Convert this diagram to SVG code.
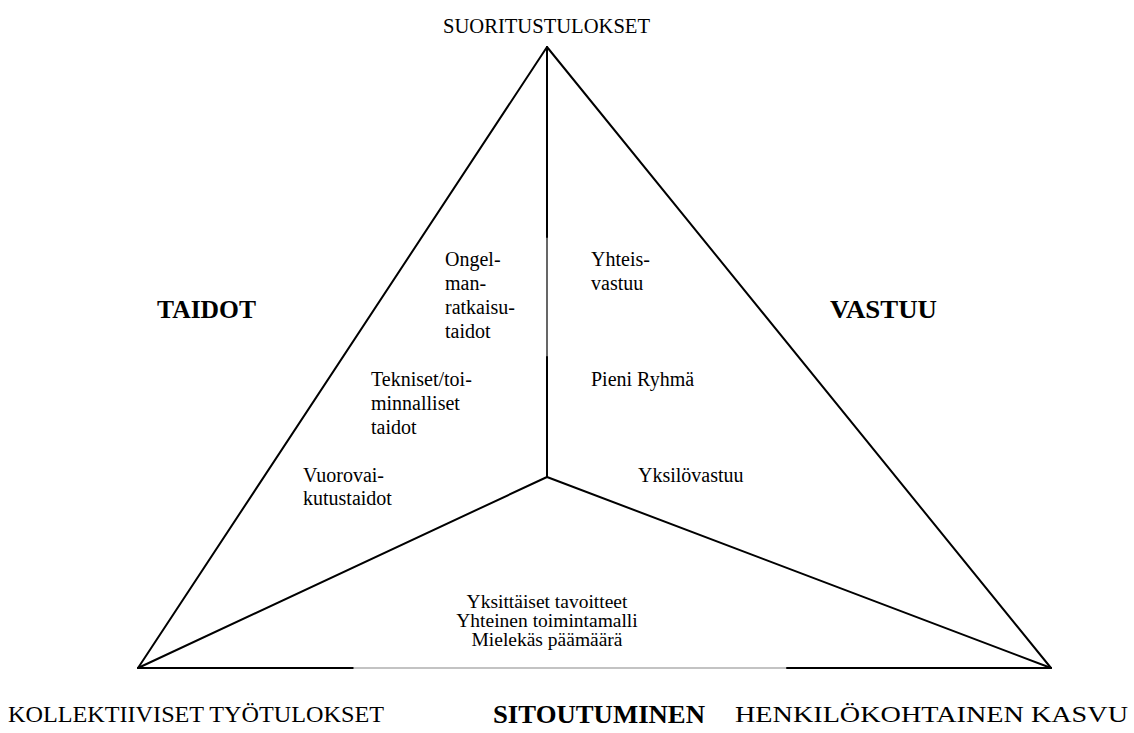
<svg xmlns="http://www.w3.org/2000/svg" width="1134" height="733" viewBox="0 0 1134 733">
<style>
.ln{stroke:#000;stroke-width:2;fill:none;stroke-linecap:round}
.thin{stroke:#000;stroke-width:1.2;fill:none}
.gr{stroke:#888;stroke-width:1.2;fill:none}
text{font-family:"Liberation Serif","Times New Roman",serif;fill:#000}
.s{font-size:20px}
.c{font-size:19.5px}
.b{font-size:24px}
.t{font-size:21px}
.bb{font-size:25px;font-weight:bold}
</style>
<rect width="1134" height="733" fill="#fff"/>
<g id="connectors">
<line class="ln" x1="547" y1="47" x2="138" y2="668"/>
<line class="ln" x1="547" y1="47" x2="1051" y2="668"/>
<line class="ln" x1="138" y1="668" x2="353" y2="668"/>
<line class="gr" x1="353" y1="668" x2="787" y2="668"/>
<line class="ln" x1="787" y1="668" x2="1051" y2="668"/>
<line class="ln" x1="547" y1="47" x2="547" y2="237"/>
<line class="thin" x1="547" y1="237" x2="547" y2="357"/>
<line class="ln" x1="547" y1="357" x2="547" y2="477"/>
<line class="ln" x1="547" y1="477" x2="138" y2="668"/>
<line class="ln" x1="547" y1="477" x2="1051" y2="668"/>
</g>
<g id="suoritustulokset"><text class="t" x="443" y="33" textLength="207" lengthAdjust="spacingAndGlyphs">SUORITUSTULOKSET</text></g>
<g id="taidot"><text class="bb" x="157" y="318" textLength="99" lengthAdjust="spacingAndGlyphs">TAIDOT</text></g>
<g id="vastuu"><text class="bb" x="830" y="318" textLength="107" lengthAdjust="spacingAndGlyphs">VASTUU</text></g>
<g id="kollektiiviset"><text class="b" x="8" y="722" textLength="376" lengthAdjust="spacingAndGlyphs">KOLLEKTIIVISET TYÖTULOKSET</text></g>
<g id="sitoutuminen"><text class="bb" x="493" y="723" textLength="212" lengthAdjust="spacingAndGlyphs">SITOUTUMINEN</text></g>
<g id="henkilokohtainen"><text class="b" x="735" y="722" textLength="393" lengthAdjust="spacingAndGlyphs">HENKILÖKOHTAINEN KASVU</text></g>
<g id="ongelmanratkaisu"><text class="s" x="445" y="266">Ongel-</text><text class="s" x="445" y="290">man-</text><text class="s" x="445" y="314">ratkaisu-</text><text class="s" x="445" y="338">taidot</text></g>
<g id="tekniset"><text class="s" x="371" y="386">Tekniset/toi-</text><text class="s" x="371" y="410">minnalliset</text><text class="s" x="371" y="434">taidot</text></g>
<g id="vuorovaikutus"><text class="s" x="303" y="482">Vuorovai-</text><text class="s" x="303" y="505">kutustaidot</text></g>
<g id="yhteisvastuu"><text class="s" x="591" y="266">Yhteis-</text><text class="s" x="591" y="290">vastuu</text></g>
<g id="pieniryhma"><text class="s" x="591" y="386">Pieni Ryhmä</text></g>
<g id="yksilovastuu"><text class="s" x="638" y="482">Yksilövastuu</text></g>
<g id="sitoutumisen-osat"><text class="c" x="547" y="608" text-anchor="middle">Yksittäiset tavoitteet</text><text class="c" x="547" y="627" text-anchor="middle">Yhteinen toimintamalli</text><text class="c" x="547" y="646" text-anchor="middle">Mielekäs päämäärä</text></g>
</svg>
